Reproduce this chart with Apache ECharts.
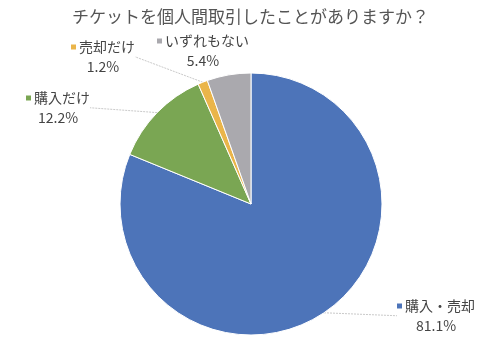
<!DOCTYPE html>
<html>
<head>
<meta charset="utf-8">
<script src="https://cdn.jsdelivr.net/npm/echarts@6/dist/echarts.min.js"></script>
<style>
  html, body { margin: 0; padding: 0; background: #fff; }
  #chart { width: 501px; height: 352px; }
</style>
</head>
<body>
<div id="chart"></div>
<script>
const categories = ['購入・売却', '購入だけ', '売却だけ', 'いずれもない']
const shares = [81.1, 12.2, 1.2, 5.4]
const colors = ['#4d74b9', '#7aa653', '#eab54a', '#aaa9ae']

// label centres
const labelPos = [[436, 316], [58, 108], [103, 57], [203, 51]]

const markKeys = ['m0', 'm1', 'm2', 'm3']
const rich = {
  n: { fontSize: 14, color: '#444', padding: [0, 0, 0, 3], lineHeight: 19 },
  p: { fontSize: 14, color: '#444', lineHeight: 20 }
}
markKeys.forEach((k, i) => {
  rich[k] = { width: 5, height: 5, backgroundColor: colors[i] }
})

const chart = echarts.init(document.getElementById('chart'))
chart.setOption({
  textStyle: { fontFamily: 'Noto Sans CJK JP' },
  title: {
    text: 'チケットを個人間取引したことがありますか？',
    left: 'center',
    top: 3,
    textStyle: { fontSize: 17, fontWeight: 'normal', color: '#555', fontFamily: 'Noto Sans CJK JP' }
  },
  series: [{
    type: 'pie',
    center: [251, 204],
    radius: 131,
    startAngle: 90,
    clockwise: true,
    animation: false,
    itemStyle: { borderColor: '#fff', borderWidth: 1 },
    label: {
      show: true,
      align: 'center',
      formatter: p => `{${markKeys[p.dataIndex]}|}{n|${p.name}}\n{p|${p.value}%}`,
      rich: rich
    },
    labelLine: {
      show: true,
      length: 10,
      length2: 0,
      lineStyle: { color: '#bbb', width: 0.8, type: [2, 1] }
    },
    labelLayout: p => ({
      x: labelPos[p.dataIndex][0],
      y: labelPos[p.dataIndex][1],
      align: 'center',
      verticalAlign: 'middle'
    }),
    data: categories.map((name, i) => ({
      name: name,
      value: shares[i],
      itemStyle: { color: colors[i] },
      labelLine: { show: i !== 3 }
    }))
  }]
})
</script>
</body>
</html>
